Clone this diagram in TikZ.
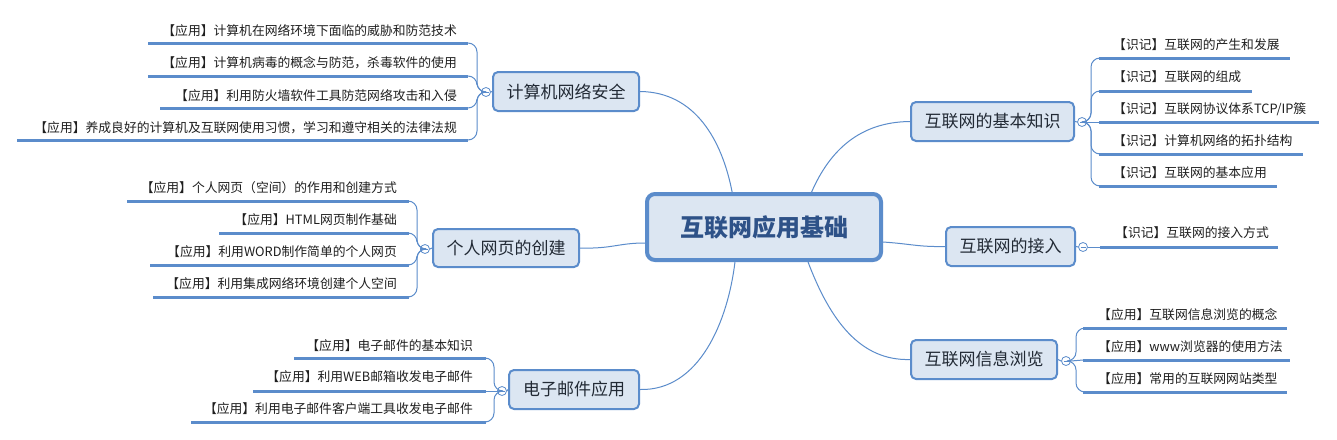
\documentclass[tikz,border=0pt]{standalone}
\usepackage{fontspec}
\setmainfont{Noto Sans CJK SC}
\usetikzlibrary{calc}
\definecolor{bfill}{HTML}{DCE6F2}
\definecolor{bline}{HTML}{5B8CCB}
\definecolor{ctext}{HTML}{2E5288}
\definecolor{ttext}{HTML}{222A35}
\tikzset{
  hub/.style={draw=bline, line width=4pt, fill=bfill, rounded corners=8pt, minimum width=234pt, minimum height=66pt, font=\fontsize{24}{28}\selectfont\bfseries, text=ctext, inner sep=0pt},
  branch/.style={draw=bline, line width=2pt, fill=bfill, rounded corners=5pt, minimum height=39pt, font=\fontsize{17}{20}\selectfont, text=ttext, inner sep=0pt},
  leaf/.style={font=\fontsize{12.8}{15}\selectfont, text=black!88, inner sep=0pt},
  leafline/.style={draw=bline, line width=3pt},
  conn/.style={draw=bline, line width=1pt},
  fold/.style={circle, draw=bline, fill=white, line width=0.8pt, minimum size=9pt, inner sep=0pt,
    path picture={\draw[bline, line width=0.8pt] ($(path picture bounding box.west)+(2pt,0pt)$) -- ($(path picture bounding box.east)+(-2pt,0pt)$);}},
  brace/.style={conn, rounded corners=9pt}
}
\begin{document}
\begin{tikzpicture}[x=1pt,y=-1pt]
\fill[white] (0,0) rectangle (1337,439);
\useasboundingbox (0,0) rectangle (1337,439);

% centre
\node[hub] (hub) at (764,227) {互联网应用基础};

% branches
\node[branch, minimum width=146pt] (sec) at (566,91.5) {计算机网络安全};
\node[branch, minimum width=146pt, minimum height=38pt] (web) at (506,248) {个人网页的创建};
\node[branch, minimum width=130pt] (mail) at (574,389.5) {电子邮件应用};
\node[branch, minimum width=163pt] (basic) at (992.5,121.5) {互联网的基本知识};
\node[branch, minimum width=129pt] (acc) at (1010.5,246.5) {互联网的接入};
\node[branch, minimum width=146pt] (brow) at (984,359.5) {互联网信息浏览};

% hub connectors
\coordinate (hubt1) at ($(hub.north west)!0.366!(hub.north east)$);
\coordinate (hubt2) at ($(hub.north west)!0.70!(hub.north east)$);
\coordinate (hubb1) at ($(hub.south west)!0.378!(hub.south east)$);
\coordinate (hubb2) at ($(hub.south west)!0.685!(hub.south east)$);
\coordinate (hubl) at ($(hub.west)+(0,16)$);
\coordinate (hubr) at ($(hub.east)+(0,15)$);
\draw[conn] (sec.east) .. controls (695,92) and (722,140) .. (hubt1);
\draw[conn] (web.east) .. controls (612,249) and (618,243) .. (hubl);
\draw[conn] (mail.east) .. controls (700,391) and (728,320) .. (hubb1);
\draw[conn] (hubt2) .. controls (830,150) and (860,122) .. (basic.west);
\draw[conn] (hubr) .. controls (912,244) and (918,247) .. (acc.west);
\draw[conn] (hubb2) .. controls (830,320) and (860,361) .. (brow.west);

% fold circles
\node[fold] (fsec) at (486,92) {};
\node[fold] (fweb) at (425,249) {};
\node[fold] (fmail) at (502,391) {};
\node[fold] (fbasic) at (1082,122) {};
\node[fold] (facc) at (1083,247) {};
\node[fold] (fbrow) at (1066,361) {};
\draw[conn] (sec.west) -- (fsec.east);
\draw[conn] (web.west) -- (fweb.east);
\draw[conn] (mail.west) -- (fmail.east);
\draw[conn] (basic.east) -- (fbasic.west);
\draw[conn] (acc.east) -- (facc.west);
\draw[conn] (brow.east) -- (fbrow.west);

% ---- group: 计算机网络安全
\coordinate (a1s) at (148,43);  \coordinate (a1e) at (468,43);
\coordinate (a2s) at (148,76);  \coordinate (a2e) at (468,76);
\coordinate (a3s) at (160,108); \coordinate (a3e) at (468,108);
\coordinate (a4s) at (17,140);  \coordinate (a4e) at (468,140);
\node[leaf, anchor=east] (a1) at (457,31) {【应用】计算机在网络环境下面临的威胁和防范技术};
\node[leaf, anchor=east] (a2) at (457,63) {【应用】计算机病毒的概念与防范，杀毒软件的使用};
\node[leaf, anchor=east] (a3) at (457,96) {【应用】利用防火墙软件工具防范网络攻击和入侵};
\node[leaf, anchor=east] (a4) at (457,128) {【应用】养成良好的计算机及互联网使用习惯，学习和遵守相关的法律法规};
\foreach \i in {1,2,3,4} {\draw[leafline] (a\i s) -- (a\i e);}
\foreach \i in {1,2,3,4} {\draw[brace] (fsec.west) -- (477,92) |- (a\i e);}

% ---- group: 个人网页的创建
\coordinate (b1s) at (127,201); \coordinate (b1e) at (409,201);
\coordinate (b2s) at (219,233); \coordinate (b2e) at (409,233);
\coordinate (b3s) at (150,265); \coordinate (b3e) at (409,265);
\coordinate (b4s) at (153,297); \coordinate (b4e) at (409,297);
\node[leaf, anchor=east] (b1) at (397,188) {【应用】个人网页（空间）的作用和创建方式};
\node[leaf, anchor=east] (b2) at (397,220) {【应用】HTML网页制作基础};
\node[leaf, anchor=east] (b3) at (397,252) {【应用】利用WORD制作简单的个人网页};
\node[leaf, anchor=east] (b4) at (397,284) {【应用】利用集成网络环境创建个人空间};
\foreach \i in {1,2,3,4} {\draw[leafline] (b\i s) -- (b\i e);}
\foreach \i in {1,2,3,4} {\draw[brace] (fweb.west) -- (417,249) |- (b\i e);}

% ---- group: 电子邮件应用
\coordinate (c1s) at (294,358); \coordinate (c1e) at (486,358);
\coordinate (c2s) at (253,391); \coordinate (c2e) at (486,391);
\coordinate (c3s) at (191,422); \coordinate (c3e) at (486,422);
\node[leaf, anchor=east] (c1) at (473,346) {【应用】电子邮件的基本知识};
\node[leaf, anchor=east] (c2) at (473,377) {【应用】利用WEB邮箱收发电子邮件};
\node[leaf, anchor=east] (c3) at (473,409) {【应用】利用电子邮件客户端工具收发电子邮件};
\foreach \i in {1,2,3} {\draw[leafline] (c\i s) -- (c\i e);}
\foreach \i in {1,3} {\draw[brace] (fmail.west) -- (494,391) |- (c\i e);}
\draw[conn] (fmail.west) -- (c2e);

% ---- group: 互联网的基本知识
\coordinate (d1s) at (1099,58);  \coordinate (d1e) at (1290,58);
\coordinate (d2s) at (1099,91);  \coordinate (d2e) at (1252,91);
\coordinate (d3s) at (1099,122); \coordinate (d3e) at (1319,122);
\coordinate (d4s) at (1099,154); \coordinate (d4e) at (1303,154);
\coordinate (d5s) at (1099,186); \coordinate (d5e) at (1277,186);
\node[leaf, anchor=west] (d1) at (1113,45) {【识记】互联网的产生和发展};
\node[leaf, anchor=west] (d2) at (1113,77) {【识记】互联网的组成};
\node[leaf, anchor=west] (d3) at (1113,109) {【识记】互联网协议体系TCP/IP簇};
\node[leaf, anchor=west] (d4) at (1113,141) {【识记】计算机网络的拓扑结构};
\node[leaf, anchor=west] (d5) at (1113,173) {【识记】互联网的基本应用};
\foreach \i in {1,2,3,4,5} {\draw[leafline] (d\i s) -- (d\i e);}
\foreach \i in {1,2,4,5} {\draw[brace] (fbasic.east) -- (1091,122) |- (d\i s);}
\draw[conn] (fbasic.east) -- (d3s);

% ---- group: 互联网的接入
\coordinate (e1s) at (1100,247); \coordinate (e1e) at (1278,247);
\node[leaf, anchor=west] (e1) at (1115,233) {【识记】互联网的接入方式};
\draw[leafline] (e1s) -- (e1e);
\draw[conn] (facc.east) -- (e1s);

% ---- group: 互联网信息浏览
\coordinate (f1s) at (1083,328); \coordinate (f1e) at (1287,328);
\coordinate (f2s) at (1083,360); \coordinate (f2e) at (1290,360);
\coordinate (f3s) at (1083,392); \coordinate (f3e) at (1287,392);
\node[leaf, anchor=west] (f1) at (1098,315) {【应用】互联网信息浏览的概念};
\node[leaf, anchor=west] (f2) at (1098,347) {【应用】www浏览器的使用方法};
\node[leaf, anchor=west] (f3) at (1098,379) {【应用】常用的互联网网站类型};
\foreach \i in {1,2,3} {\draw[leafline] (f\i s) -- (f\i e);}
\foreach \i in {1,3} {\draw[brace] (fbrow.east) -- (1076,361) |- (f\i s);}
\draw[conn] (fbrow.east) -- (f2s);
\end{tikzpicture}
\end{document}
